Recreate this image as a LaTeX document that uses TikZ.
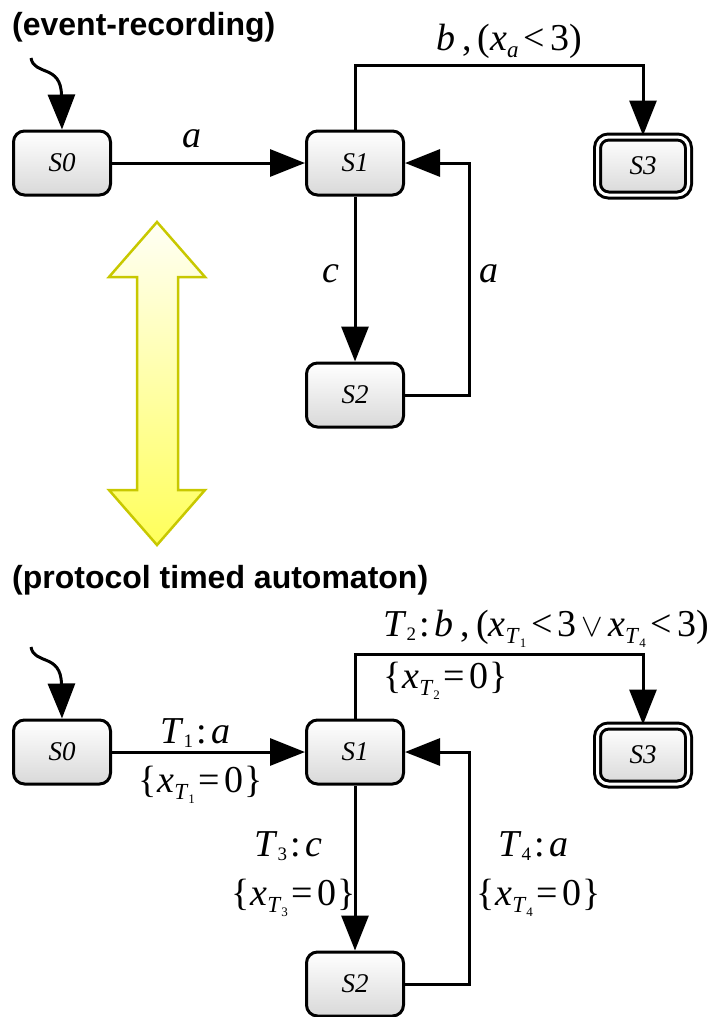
\documentclass[tikz,border=0pt]{standalone}
\usepackage{graphicx}
\usepackage{fontspec}
\setmainfont{Liberation Serif}
\newfontfamily\hdfont{Liberation Sans}
\usetikzlibrary{arrows.meta}
\definecolor{yline}{RGB}{200,200,0}
\definecolor{yfillb}{RGB}{255,255,90}
\definecolor{yfillt}{RGB}{255,255,245}
\newcommand\Lf{\fontsize{38}{38}\selectfont}
\newcommand\SubA[1]{\raisebox{-7pt}{\fontsize{23}{23}\selectfont #1}}
\newcommand\SubB[1]{\raisebox{-4pt}{\fontsize{13}{13}\selectfont #1}}
\newcommand\SubC[1]{\raisebox{-4pt}{\fontsize{19}{19}\selectfont #1}}
\newcommand\Col{\hspace{3pt}:\hspace{5pt}}
\newcommand\Lt{\hspace{5pt}<\hspace{5pt}}
\newcommand\Eq{\hspace{4pt}=\hspace{4pt}}
\newcommand\Xs[1]{\textit{x}\SubA{\textit{T}\SubB{#1}}}
\newcommand\Rst[1]{\{\hspace{1pt}\Xs{#1}\Eq 0\hspace{1pt}\}}
\begin{document}
\begin{tikzpicture}[x=1pt,y=-1pt,
  st/.style={draw, line width=3pt, rounded corners=11pt, top color=white, bottom color=black!15,
    minimum width=97pt, minimum height=64pt, inner sep=0pt, font=\fontsize{27}{27}\selectfont\itshape},
  fin/.style={st, double=white, double distance=3pt, minimum width=91pt, minimum height=58pt},
  arr/.style={line width=3pt, -{Triangle[length=35pt,width=27pt]}},
  lab/.style={inner sep=0pt, anchor=base west, font=\Lf},
  ttl/.style={inner sep=0pt, anchor=base west, font=\fontsize{32}{32}\selectfont\hdfont\bfseries}]
\useasboundingbox (0,0) rectangle (720,1017);

% titles
\node[ttl] (t1) at (12,35) {(event-recording)};
\node[ttl] (t2) at (12,588) {(protocol timed automaton)};

% ---------- top automaton ----------
\node[st] (a0) at (62,163) {S0};
\node[st] (a1) at (355,163) {S1};
\node[fin] (a3) at (643,166) {S3};
\node[st] (a2) at (355,395) {S2};

\coordinate (ai) at (31,58);
\draw[arr] (ai) .. controls (34,76) and (61,64) .. (a0.north);
\draw[arr] (a0) -- (a1);
\node[lab, anchor=base] (la) at (192,147) {\textit{a}};
\coordinate (atop) at (500,65);
\draw[arr] (a1.north) |- (atop) -| (a3.north);
\node[lab] (lb) at (436,50) {\textit{b}\hspace{7pt},\hspace{6pt}(\textit{x}\SubA{\textit{a}}\Lt 3)};
\draw[arr] (a1) -- (a2);
\node[lab, anchor=base] (lc) at (331,282) {\textit{c}};
\coordinate (ar) at (469,280);
\draw[arr] (a2.east) -| (ar) |- (a1.east);
\node[lab, anchor=base] (ld) at (489,282) {\textit{a}};

% ---------- yellow double arrow ----------
\draw[line width=2.5pt, draw=yline, top color=yfillt, bottom color=yfillb, line join=miter]
  (157,222) -- (109,277) -- (137,277) -- (137,490) -- (109,490) -- (157,545)
  -- (205,490) -- (178,490) -- (178,277) -- (205,277) -- cycle;

% ---------- bottom automaton ----------
\node[st] (b0) at (62,752) {S0};
\node[st] (b1) at (355,752) {S1};
\node[fin] (b3) at (643,755) {S3};
\node[st] (b2) at (355,984) {S2};

\coordinate (bi) at (31,647);
\draw[arr] (bi) .. controls (34,665) and (61,653) .. (b0.north);
\draw[arr] (b0) -- (b1);
\node[lab] (l1) at (160,743) {\textit{T}\SubC{1}\Col\textit{a}};
\node[lab] (r1) at (138,792) {\Rst{1}};
\coordinate (btop) at (500,654);
\draw[arr] (b1.north) |- (btop) -| (b3.north);
\node[lab] (l2) at (383,636) {\textit{T}\SubC{2}\Col\textit{b}\hspace{7pt},\hspace{6pt}(\Xs{1}\Lt 3\hspace{5pt}\scalebox{1.3}{$\vee$}\hspace{5pt}\Xs{4}\Lt 3)};
\node[lab] (r2) at (383,688) {\Rst{2}};
\draw[arr] (b1) -- (b2);
\node[lab] (l3) at (254,856) {\textit{T}\SubC{3}\Col\textit{c}};
\node[lab] (r3) at (231,905) {\Rst{3}};
\coordinate (br) at (469,869);
\draw[arr] (b2.east) -| (br) |- (b1.east);
\node[lab] (l4) at (498,856) {\textit{T}\SubC{4}\Col\textit{a}};
\node[lab] (r4) at (476,905) {\Rst{4}};
\end{tikzpicture}
\end{document}
